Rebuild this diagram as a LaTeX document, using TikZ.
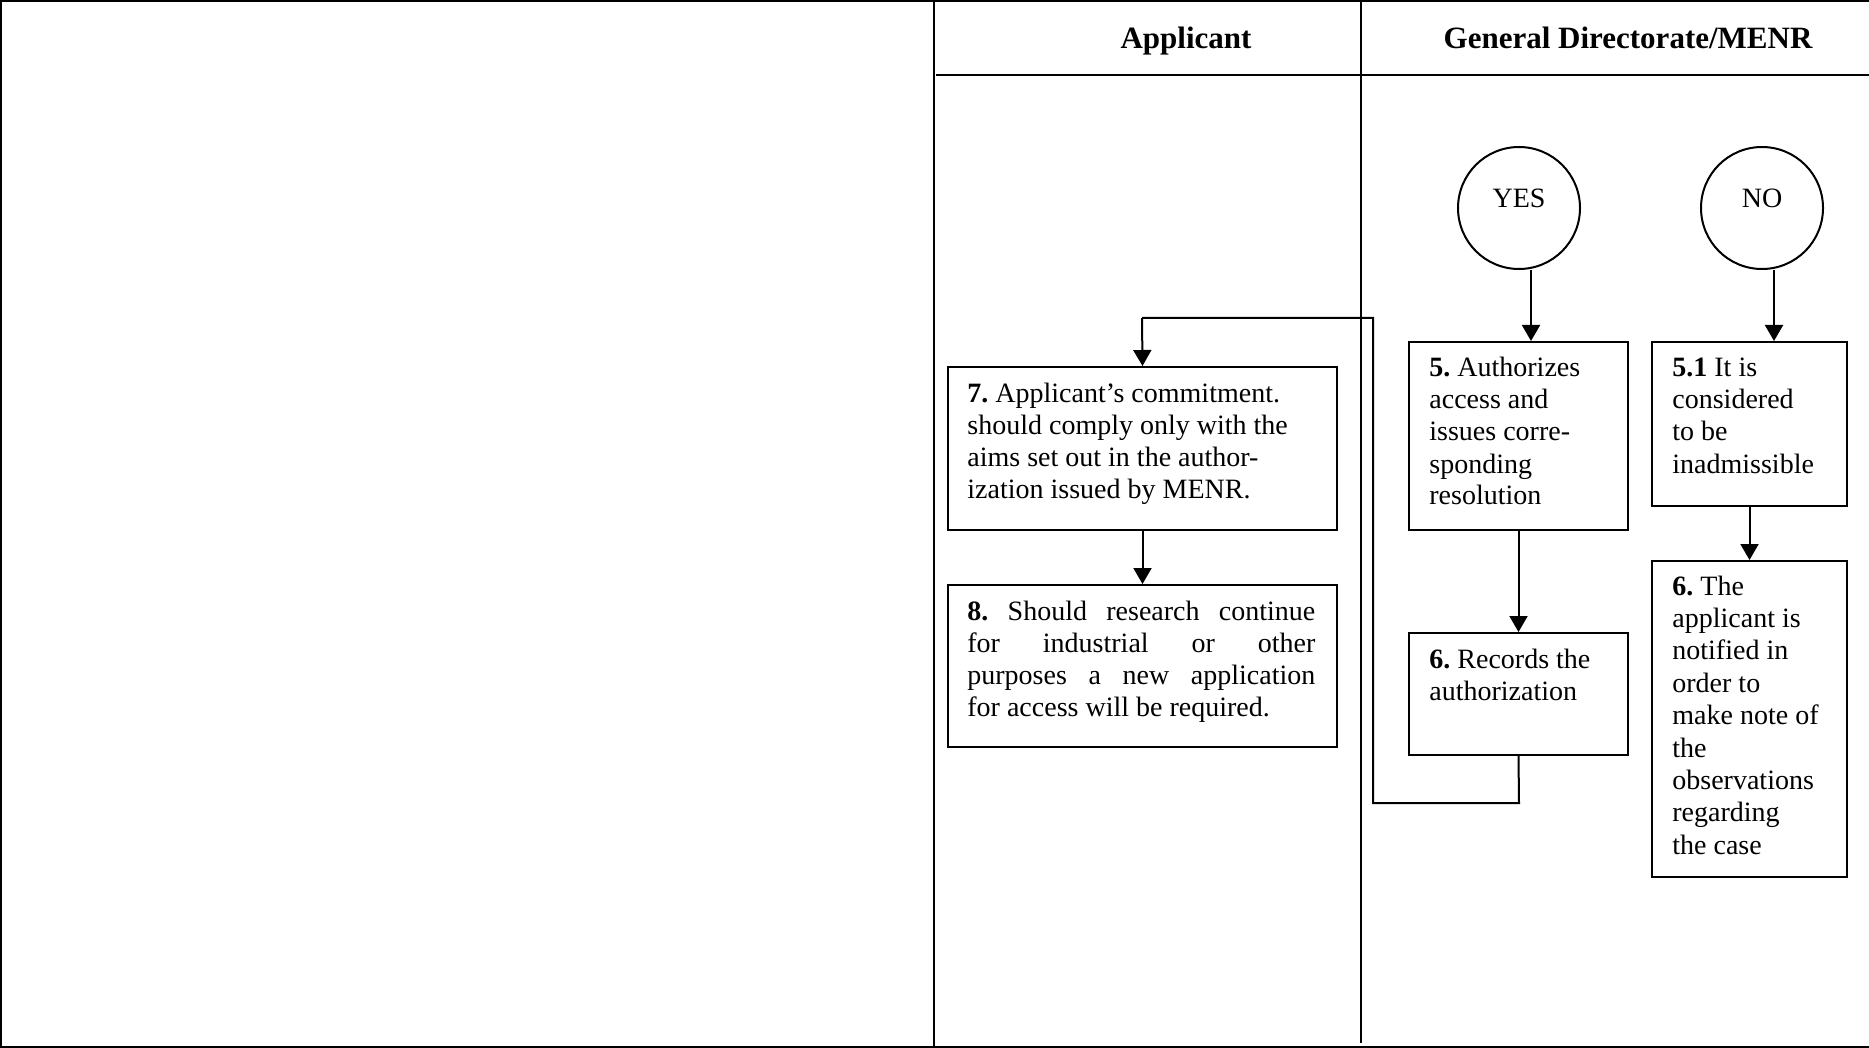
\documentclass[tikz,border=0pt]{standalone}
\usepackage{fontspec}
\setmainfont{Liberation Serif}
\usetikzlibrary{arrows.meta,calc,fit}
\frenchspacing
\newcommand{\bodyfnt}{\fontsize{14}{16}\selectfont}
\begin{document}
\begin{tikzpicture}[x=0.5pt,y=-0.5pt,
  frame/.style={line width=1pt},
  box/.style={draw,line width=1pt,inner sep=0pt},
  txt/.style={inner sep=0pt,anchor=base west,font=\bodyfnt},
  head/.style={inner sep=0pt,anchor=base,font=\fontsize{15.5}{16}\selectfont\bfseries},
  yn/.style={draw,circle,line width=1pt,minimum size=61pt,inner sep=0pt},
  arr/.style={line width=1pt,-{Triangle[length=8pt,width=9pt]}},
  link/.style={line width=1pt}]
\useasboundingbox (0,0) rectangle (1869,1048);
% frame and lanes
\draw[frame] (1869,1) -- (1,1) -- (1,1047) -- (1869,1047);
\draw[frame] (934,0) -- (934,1048);
\draw[frame] (1361,0) -- (1361,1043);
\draw[line width=1.3pt] (936,75) -- (1869,75);
\node[head] (happ) at (1186,49) {Applicant};
\node[head] (hgen) at (1628,49) {General Directorate/MENR};
% circles
\node[yn] (yes) at (1519,208) {};
\node[inner sep=0pt,anchor=base,font=\bodyfnt] (yest) at (1519,208) {YES};
\node[yn] (no) at (1762,208) {};
\node[inner sep=0pt,anchor=base,font=\bodyfnt] (not) at (1762,208) {NO};
% boxes
\node[box,fit={(1409,342) (1628,530)}] (b5) {};
\node[box,fit={(1652,342) (1847,506)}] (b51) {};
\node[box,fit={(1409,633) (1628,755)}] (b6r) {};
\node[box,fit={(1652,561) (1847,877)}] (b6a) {};
\node[box,fit={(948,367) (1337,530)}] (b7) {};
\node[box,fit={(948,585) (1337,747)}] (b8) {};
% texts
\node[txt] (t5) at ($(b5.north west)+(21,36)$) {\parbox[t]{100pt}{\textbf{5.} Authorizes\\access and\\issues corre-\\sponding\\resolution}};
\node[txt] (t51) at ($(b51.north west)+(21,36)$) {\parbox[t]{90pt}{\textbf{5.1} It is\\considered\\to be\\inadmissible}};
\node[txt] (t6r) at ($(b6r.north west)+(21,36)$) {\parbox[t]{100pt}{\textbf{6.} Records the\\authorization}};
\node[txt] (t6a) at ($(b6a.north west)+(21,35)$) {\parbox[t]{90pt}{\fontsize{14}{16.2}\selectfont\textbf{6.} The\\applicant is\\notified in\\order to\\make note of\\the\\observations\\regarding\\the case}};
\node[txt] (t7) at ($(b7.north west)+(20,36)$) {\parbox[t]{180pt}{\textbf{7.} Applicant’s commitment.\\should comply only with the\\aims set out in the author-\\ization issued by MENR.}};
\node[txt] (t8) at ($(b8.north west)+(20,36)$) {\parbox[t]{174pt}{\makebox[174pt][s]{\textbf{8.} Should research continue}\\\makebox[174pt][s]{for industrial or other}\\\makebox[174pt][s]{purposes a new application}\\for access will be required.}};
% connectors
\draw[arr] ([xshift=6pt]yes.south) -- ([xshift=6pt]yes.south |- b5.north);
\draw[arr] ([xshift=6pt]no.south) -- ([xshift=6pt]no.south |- b51.north);
\draw[arr] (b5.south) -- (b6r.north);
\draw[arr] (b51.south) -- (b6a.north);
\coordinate (c1) at (1519,803);
\coordinate (c2) at (1373,803);
\coordinate (c3) at (1373,318);
\coordinate (c4) at (1142,318);
\draw[link] (b6r.south) -- (c1) -- (c2) -- (c3) -- (c4);
\draw[arr] (c4) -- (b7.north);
\draw[arr] (b7.south) -- (b8.north);
\end{tikzpicture}
\end{document}
